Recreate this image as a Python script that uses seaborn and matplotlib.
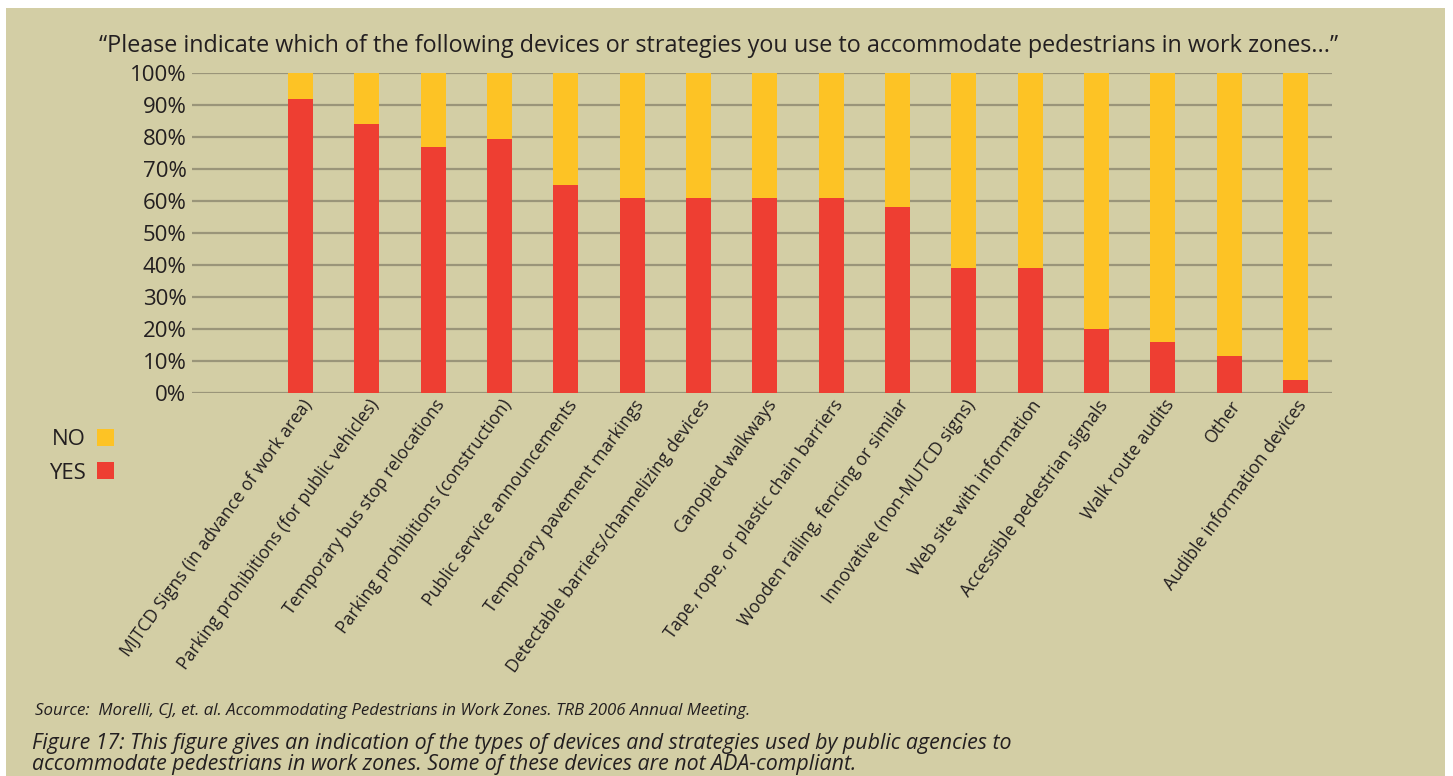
import matplotlib
matplotlib.use("Agg")
import matplotlib.pyplot as plt
import matplotlib.patches as mpatches
import matplotlib.transforms as mtransforms
import pandas as pd
import seaborn as sns

# Survey responses: share of agencies using each device or strategy
categories = [
    "MJTCD Signs (in advance of work area)",
    "Parking prohibitions (for public vehicles)",
    "Temporary bus stop relocations",
    "Parking prohibitions (construction)",
    "Public service announcements",
    "Temporary pavement markings",
    "Detectable barriers/channelizing devices",
    "Canopied walkways",
    "Tape, rope, or plastic chain barriers",
    "Wooden railing, fencing or similar",
    "Innovative (non-MUTCD signs)",
    "Web site with information",
    "Accessible pedestrian signals",
    "Walk route audits",
    "Other",
    "Audible information devices",
]
yes_pct = [92, 84, 77, 79.5, 65, 61, 61, 61, 61, 58, 39, 39, 20, 16, 11.5, 4]
no_pct = [100 - v for v in yes_pct]
y_ticks = list(range(0, 101, 10))
y_tick_labels = [f"{t}%" for t in y_ticks]

title = ("\u201cPlease indicate which of the following devices or strategies "
         "you use to accommodate pedestrians in work zones...\u201d")
source = "Source:  Morelli, CJ, et. al. Accommodating Pedestrians in Work Zones. TRB 2006 Annual Meeting."
caption_1 = ("Figure 17: This figure gives an indication of the types of devices and "
             "strategies used by public agencies to")
caption_2 = ("accommodate pedestrians in work zones. Some of these devices are not "
             "ADA-compliant.")

BG = "#D3CEA5"
RED = "#EE3E32"
YELLOW = "#FDC325"
GRID = "#9A9579"
TEXT = "#231F20"

sns.set_theme(style="white")
plt.rcParams["font.family"] = ["Open Sans", "DejaVu Sans"]

df = pd.DataFrame({"category": categories, "yes": yes_pct, "no": no_pct})
df["total"] = df["yes"] + df["no"]

fig = plt.figure(figsize=(14.53, 7.76), dpi=100, facecolor="white")
fig.patches.append(mpatches.Rectangle((6 / 1453, 0), (1445 - 6) / 1453, 1 - 8 / 776,
                                      transform=fig.transFigure, facecolor=BG,
                                      edgecolor="none", zorder=-10))

ax = fig.add_axes([192 / 1453, 1 - 393 / 776, (1332 - 192) / 1453, (393 - 73) / 776])
ax.set_facecolor(BG)
ax.patch.set_alpha(0)

bar_w = 0.377
sns.barplot(data=df, x="category", y="total", color=YELLOW, width=bar_w,
            saturation=1, linewidth=0, edgecolor="none", ax=ax, zorder=2)
sns.barplot(data=df, x="category", y="yes", color=RED, width=bar_w,
            saturation=1, linewidth=0, edgecolor="none", ax=ax, zorder=3)

ax.set_xlim(-1.636, 15.55)
ax.set_ylim(0, 100)
ax.set_yticks(y_ticks)
ax.set_yticklabels(y_tick_labels, fontsize=16, color=TEXT)
ax.set_xlabel("")
ax.set_ylabel("")
for s in ax.spines.values():
    s.set_visible(False)
ax.tick_params(axis="both", length=0)
ax.tick_params(axis="y", pad=4)
ax.tick_params(axis="x", pad=2)

for t in y_ticks:
    ax.axhline(t, color=GRID, linewidth=1.6, zorder=1)

ax.set_xticks(range(len(categories)))
ax.set_xticklabels(categories, rotation=54, ha="right", va="center",
                   rotation_mode="anchor", fontsize=12.7, color=TEXT)
shift = mtransforms.ScaledTranslation(8 / 100, -6 / 100, fig.dpi_scale_trans)
for lbl in ax.get_xticklabels():
    lbl.set_transform(lbl.get_transform() + shift)

fig.text(718.5 / 1453, 1 - 46 / 776, title, ha="center", va="center",
         fontsize=16.85, color=TEXT)

handles = [mpatches.Patch(facecolor=YELLOW, edgecolor="none"),
           mpatches.Patch(facecolor=RED, edgecolor="none")]
fig.legend(handles, ["NO", "YES"], loc="upper left",
           bbox_to_anchor=(29 / 1453, 1 - 409 / 776), frameon=False,
           markerfirst=False, fontsize=16, handlelength=0.75,
           handleheight=0.8, handletextpad=0.5, labelspacing=0.55,
           labelcolor=TEXT)

fig.text(35 / 1453, 1 - 715 / 776, source, ha="left", va="baseline",
         fontsize=12.2, style="italic", color=TEXT)
fig.text(32 / 1453, 1 - 749 / 776, caption_1, ha="left", va="baseline",
         fontsize=15.4, style="italic", color=TEXT)
fig.text(32 / 1453, 1 - 770 / 776, caption_2, ha="left", va="baseline",
         fontsize=15.4, style="italic", color=TEXT)

fig.savefig("out.png", dpi=100, facecolor="white")
